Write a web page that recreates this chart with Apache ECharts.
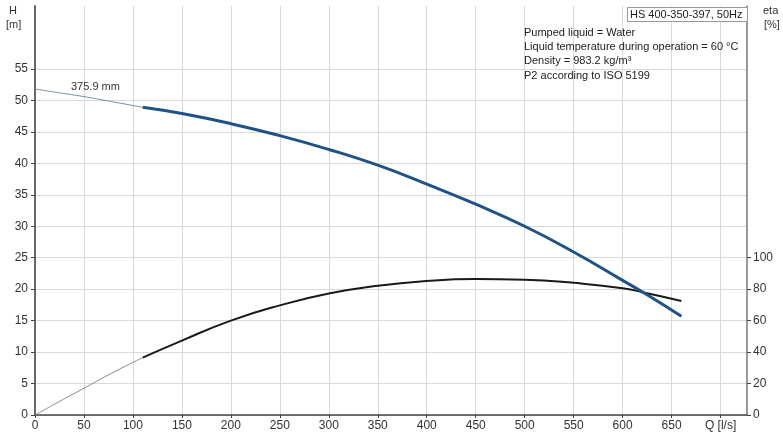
<!DOCTYPE html>
<html>
<head>
<meta charset="utf-8">
<script src="https://cdn.jsdelivr.net/npm/echarts@6/dist/echarts.min.js"></script>
<style>
html,body{margin:0;padding:0;background:#fff;}
#chart{width:783px;height:436px;}
</style>
</head>
<body>
<div id="chart"></div>
<script>
// Q [l/s] for the thin (extrapolated) part and the main part of the curves
var qThin = [0, 25, 50, 75, 110];
var hThin = [51.8, 51.2, 50.6, 49.9, 48.9];
var etaThin = [0, 8.6, 17, 25.5, 36.5];

var qMain = [110, 150, 200, 250, 300, 350, 400, 450, 500, 550, 600, 625, 660];
var hMain = [48.9, 47.9, 46.3, 44.4, 42.2, 39.7, 36.7, 33.5, 30.0, 25.9, 21.4, 19.1, 15.7];
var etaMain = [36.5, 47.3, 60, 69.7, 77.2, 82.2, 85.2, 86.4, 86.0, 84.0, 80.6, 77.4, 72.5];

var hTicks = [0, 5, 10, 15, 20, 25, 30, 35, 40, 45, 50, 55];
var etaTicks = [0, 20, 40, 60, 80, 100];
var qTicks = [0, 50, 100, 150, 200, 250, 300, 350, 400, 450, 500, 550, 600, 650, 700];

var curveLabel = '375.9 mm';
var titleBox = 'HS 400-350-397, 50Hz';
var infoLines = ['Pumped liquid = Water', 'Liquid temperature during operation = 60 °C', 'Density = 983.2 kg/m³', 'P2 according to ISO 5199'];

function pairs(xs, ys) { return xs.map(function (x, i) { return [x, ys[i]]; }); }

var FONT = 'Liberation Sans, Arial, sans-serif';
var chart = echarts.init(document.getElementById('chart'));
var graphics = [
  { type: 'text', x: 9, y: 11, style: { text: 'H', font: '11px ' + FONT, fill: '#333', verticalAlign: 'middle' } },
  { type: 'text', x: 6, y: 24.5, style: { text: '[m]', font: '11px ' + FONT, fill: '#333', verticalAlign: 'middle' } },
  { type: 'text', x: 763, y: 11, style: { text: 'eta', font: '11px ' + FONT, fill: '#333', verticalAlign: 'middle' } },
  { type: 'text', x: 764, y: 24.5, style: { text: '[%]', font: '11px ' + FONT, fill: '#333', verticalAlign: 'middle' } },
  { type: 'rect', shape: { x: 627.5, y: 7.5, width: 120, height: 14 }, style: { fill: '#fff', stroke: '#999', lineWidth: 1 }, z: 10 },
  { type: 'text', x: 630, y: 15, style: { text: titleBox, font: '11px ' + FONT, fill: '#222', verticalAlign: 'middle' }, z: 11 },
  { type: 'text', x: 71, y: 87, style: { text: curveLabel, font: '11px ' + FONT, fill: '#333', verticalAlign: 'middle' }, z: 11 }
];
infoLines.forEach(function (t, i) {
  graphics.push({ type: 'text', x: 524, y: 33 + i * 14.2, style: { text: t, font: '11px ' + FONT, fill: '#222', verticalAlign: 'middle' }, z: 11 });
});

chart.setOption({
  animation: false,
  backgroundColor: '#fff',
  textStyle: { fontFamily: FONT },
  grid: { left: 35, right: 36, top: 6, bottom: 21, containLabel: false },
  xAxis: {
    type: 'value', min: 0, max: 727, interval: 50,
    axisLine: { show: true, lineStyle: { color: '#444', width: 1.5 } },
    axisTick: { show: true, length: 3, lineStyle: { color: '#444' }, customValues: qTicks },
    axisLabel: {
      color: '#333', fontSize: 12, margin: 5, customValues: qTicks,
      formatter: function (v) { return v === 700 ? 'Q [l/s]' : String(v); }
    },
    splitLine: { show: true, lineStyle: { color: '#d9d9d9', width: 1 } }
  },
  yAxis: [{
    type: 'value', min: 0, max: 65, interval: 5, position: 'left',
    axisLine: { show: true, lineStyle: { color: '#666', width: 2 } },
    axisTick: { show: true, length: 4, lineStyle: { color: '#444' }, customValues: hTicks },
    axisLabel: { color: '#333', fontSize: 12, margin: 7, customValues: hTicks },
    splitLine: { show: true, lineStyle: { color: '#d9d9d9', width: 1 } }
  }, {
    type: 'value', min: 0, max: 260, interval: 20, position: 'right',
    axisLine: { show: true, lineStyle: { color: '#777', width: 1.5 } },
    axisTick: { show: true, length: 4, lineStyle: { color: '#444' }, customValues: etaTicks },
    axisLabel: { color: '#333', fontSize: 12, margin: 6, customValues: etaTicks },
    splitLine: { show: false }
  }],
  series: [
    { type: 'line', yAxisIndex: 0, data: pairs(qThin, hThin), smooth: 0.5, symbol: 'none', lineStyle: { color: '#7d8da3', width: 1 } },
    { type: 'line', yAxisIndex: 1, data: pairs(qThin, etaThin), smooth: 0.5, symbol: 'none', lineStyle: { color: '#888', width: 1 } },
    { type: 'line', yAxisIndex: 1, data: pairs(qMain, etaMain), smooth: 0.5, symbol: 'none', lineStyle: { color: '#1a1a1a', width: 2 } },
    { type: 'line', yAxisIndex: 0, data: pairs(qMain, hMain), smooth: 0.5, symbol: 'none', lineStyle: { color: '#1f5289', width: 3 } }
  ],
  graphic: graphics
});
</script>
</body>
</html>
